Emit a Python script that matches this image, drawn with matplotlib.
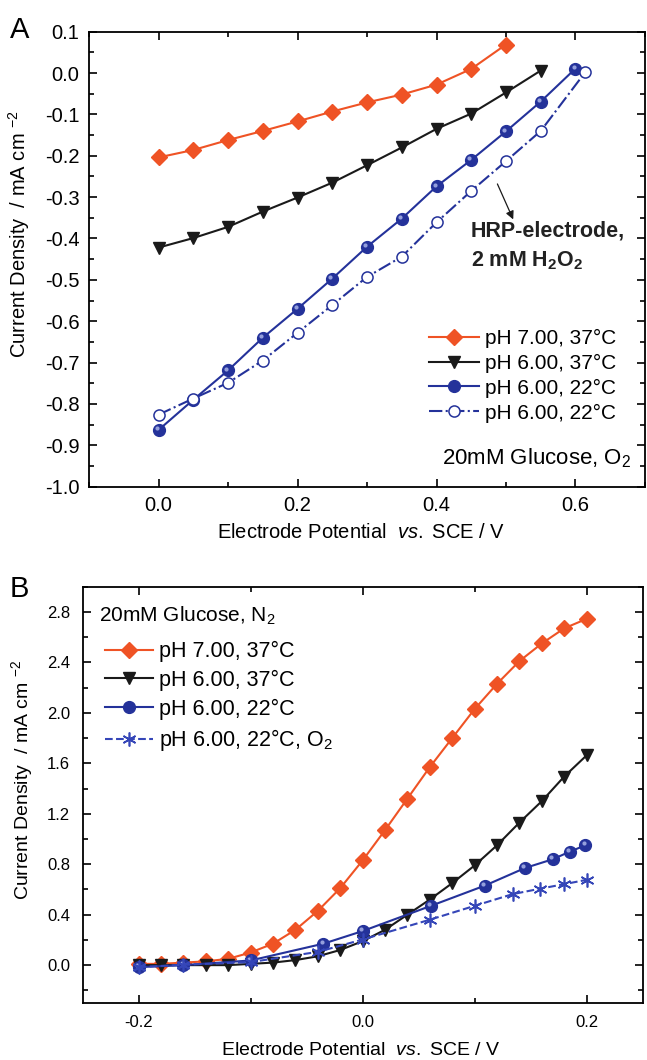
import numpy as np
import matplotlib
matplotlib.use("Agg")
import matplotlib.pyplot as plt
from matplotlib.ticker import MultipleLocator, FormatStrFormatter
from matplotlib.transforms import offset_copy

plt.rcParams['font.family'] = ['Liberation Sans', 'DejaVu Sans']
plt.rcParams['mathtext.fontset'] = 'custom'
plt.rcParams['mathtext.rm'] = 'Liberation Sans'
plt.rcParams['mathtext.it'] = 'Liberation Sans:italic'
plt.rcParams['mathtext.bf'] = 'Liberation Sans:bold'
plt.rcParams['axes.unicode_minus'] = False

# ---- panel A: 20 mM glucose, O2 ----
xa_70_37 = [0.0, 0.05, 0.10, 0.15, 0.20, 0.25, 0.30, 0.35, 0.40, 0.45, 0.50]
ya_70_37 = [-0.204, -0.186, -0.162, -0.140, -0.117, -0.093, -0.071, -0.052, -0.028, 0.010, 0.069]

xa_60_37 = [0.0, 0.05, 0.10, 0.15, 0.20, 0.25, 0.30, 0.35, 0.40, 0.45, 0.50, 0.55]
ya_60_37 = [-0.422, -0.399, -0.372, -0.335, -0.301, -0.265, -0.223, -0.180, -0.135, -0.098, -0.047, 0.006]

xa_60_22 = [0.0, 0.05, 0.10, 0.15, 0.20, 0.25, 0.30, 0.35, 0.40, 0.45, 0.50, 0.55, 0.60]
ya_60_22 = [-0.863, -0.790, -0.719, -0.640, -0.570, -0.497, -0.420, -0.352, -0.274, -0.210, -0.141, -0.069, 0.011]

xa_hrp = [0.0, 0.05, 0.10, 0.15, 0.20, 0.25, 0.30, 0.35, 0.40, 0.45, 0.50, 0.55, 0.614]
ya_hrp = [-0.826, -0.787, -0.749, -0.695, -0.628, -0.561, -0.493, -0.444, -0.361, -0.285, -0.213, -0.140, 0.002]

# ---- panel B: 20 mM glucose, N2 ----
xb_70_37 = [-0.20, -0.18, -0.16, -0.14, -0.12, -0.10, -0.08, -0.06, -0.04, -0.02, 0.00,
            0.02, 0.04, 0.06, 0.08, 0.10, 0.12, 0.14, 0.16, 0.18, 0.20]
yb_70_37 = [0.01, 0.01, 0.02, 0.03, 0.05, 0.10, 0.17, 0.28, 0.43, 0.61, 0.83,
            1.07, 1.32, 1.57, 1.80, 2.03, 2.23, 2.41, 2.55, 2.67, 2.745]

xb_60_37 = [-0.20, -0.18, -0.16, -0.14, -0.12, -0.10, -0.08, -0.06, -0.04, -0.02, 0.00,
            0.02, 0.04, 0.06, 0.08, 0.10, 0.12, 0.14, 0.16, 0.18, 0.20]
yb_60_37 = [0.0, 0.0, 0.0, 0.0, 0.0, 0.01, 0.02, 0.04, 0.07, 0.12, 0.19,
            0.28, 0.40, 0.52, 0.65, 0.79, 0.95, 1.13, 1.30, 1.495, 1.663]

xb_60_22 = [-0.20, -0.16, -0.10, -0.035, 0.0, 0.061, 0.109, 0.145, 0.170, 0.185, 0.199]
yb_60_22 = [-0.016, 0.0, 0.037, 0.17, 0.27, 0.47, 0.63, 0.77, 0.84, 0.90, 0.95]

xb_o2 = [-0.20, -0.16, -0.10, -0.04, 0.0, 0.06, 0.10, 0.134, 0.158, 0.18, 0.20]
yb_o2 = [-0.016, 0.003, 0.024, 0.105, 0.203, 0.36, 0.47, 0.563, 0.605, 0.642, 0.676]

labels = ['pH 7.00, 37°C', 'pH 6.00, 37°C', 'pH 6.00, 22°C']

orange = '#ef5325'
black = '#1a1a1a'
navy = '#24329a'
starblue = '#3546b8'

fig = plt.figure(figsize=(6.47, 10.6), dpi=100)
axA = fig.add_axes([0.1376, 0.5409, 0.8593, 0.4292])
axB = fig.add_axes([0.1277, 0.0538, 0.8655, 0.3927])


def style_axis(ax, fs, pad):
    for s in ax.spines.values():
        s.set_linewidth(1.3)
    ax.tick_params(which='both', direction='in', top=True, right=True, width=1.2)
    ax.tick_params(which='major', length=6, labelsize=fs, pad=pad)
    ax.tick_params(which='minor', length=3.5)


def sphere_shine(ax, x, y):
    # small highlight on the ball markers
    tr = offset_copy(ax.transData, fig=fig, x=-1.3, y=1.3, units='points')
    ax.plot(x, y, 'o', ms=3, color='#a9b3e8', mec='none', alpha=0.85, transform=tr)


# panel A
axA.plot(xa_70_37, ya_70_37, '-', color=orange, lw=1.5, marker='D', ms=8, mfc=orange, mec=orange, label=labels[0])
axA.plot(xa_60_37, ya_60_37, '-', color=black, lw=1.5, marker='v', ms=9, mfc=black, mec=black, label=labels[1])
axA.plot(xa_60_22, ya_60_22, '-', color=navy, lw=1.5, marker='o', ms=8.5, mfc=navy, mec=navy, label=labels[2])
sphere_shine(axA, xa_60_22, ya_60_22)
axA.plot(xa_hrp, ya_hrp, '-.', color=navy, lw=1.5, marker='o', ms=8, mfc='white', mec=navy, mew=1.1, label=labels[2])

axA.set_xlim(-0.1, 0.7)
axA.set_ylim(-1.0, 0.1)
axA.xaxis.set_major_locator(MultipleLocator(0.2))
axA.xaxis.set_minor_locator(MultipleLocator(0.1))
axA.yaxis.set_major_locator(MultipleLocator(0.1))
axA.yaxis.set_minor_locator(MultipleLocator(0.05))
axA.xaxis.set_major_formatter(FormatStrFormatter('%.1f'))
axA.yaxis.set_major_formatter(FormatStrFormatter('%.1f'))
style_axis(axA, 14.5, 7)
axA.set_xlabel('Electrode Potential  $\\it{vs.}$ SCE / V', fontsize=14.5)
axA.set_ylabel('Current Density  / mA cm $^{-2}$', fontsize=14.5)
axA.xaxis.set_label_coords(0.49, -0.08)
axA.yaxis.set_label_coords(-0.103, 0.555)

axA.legend(loc='upper right', bbox_to_anchor=(0.963, 0.365), frameon=False, fontsize=15,
           handlelength=2.4, handletextpad=0.3, labelspacing=0.28, borderaxespad=0.0)
axA.text(0.975, 0.063, '20mM Glucose, O$_2$', transform=axA.transAxes, fontsize=16,
         ha='right', va='center')

axA.annotate('', xy=(0.512, -0.36), xytext=(0.486, -0.262),
             arrowprops=dict(arrowstyle='-|>', color=black, lw=0.9, mutation_scale=12))
axA.text(0.449, -0.418, 'HRP-electrode,\n2 mM H$_\\mathbf{2}$O$_\\mathbf{2}$', fontsize=15.5,
         fontweight='bold', va='center', ha='left', linespacing=1.45, color='#222222')

# panel B
axB.plot(xb_70_37, yb_70_37, '-', color=orange, lw=1.5, marker='D', ms=8, mfc=orange, mec=orange, label=labels[0])
axB.plot(xb_60_37, yb_60_37, '-', color=black, lw=1.5, marker='v', ms=9, mfc=black, mec=black, label=labels[1])
axB.plot(xb_60_22, yb_60_22, '-', color=navy, lw=1.5, marker='o', ms=8.5, mfc=navy, mec=navy, label=labels[2])
sphere_shine(axB, xb_60_22, yb_60_22)
axB.plot(xb_o2, yb_o2, '--', color=starblue, lw=1.5, marker=(6, 2, 0), ms=10, mec=starblue, mew=1.2,
         label='pH 6.00, 22°C, O$_2$')

axB.set_xlim(-0.25, 0.25)
axB.set_ylim(-0.3, 3.0)
axB.xaxis.set_major_locator(MultipleLocator(0.2))
axB.xaxis.set_minor_locator(MultipleLocator(0.1))
axB.yaxis.set_major_locator(MultipleLocator(0.4))
axB.yaxis.set_minor_locator(MultipleLocator(0.2))
axB.xaxis.set_major_formatter(FormatStrFormatter('%.1f'))
axB.yaxis.set_major_formatter(FormatStrFormatter('%.1f'))
style_axis(axB, 12, 9)
axB.set_xlabel('Electrode Potential  $\\it{vs.}$ SCE / V', fontsize=14)
axB.set_ylabel('Current Density  / mA cm $^{-2}$', fontsize=14)
axB.xaxis.set_label_coords(0.496, -0.094)
axB.yaxis.set_label_coords(-0.085, 0.536)

axB.text(0.03, 0.93, '20mM Glucose, N$_2$', transform=axB.transAxes, fontsize=15,
         ha='left', va='center')
axB.legend(loc='upper left', bbox_to_anchor=(0.025, 0.89), frameon=False, fontsize=15.5,
           handlelength=2.2, handletextpad=0.3, labelspacing=0.35, borderaxespad=0.0)

fig.text(0.015, 0.985, 'A', fontsize=21, va='top', ha='left')
fig.text(0.015, 0.458, 'B', fontsize=21, va='top', ha='left')

fig.savefig('out.png', dpi=100)
